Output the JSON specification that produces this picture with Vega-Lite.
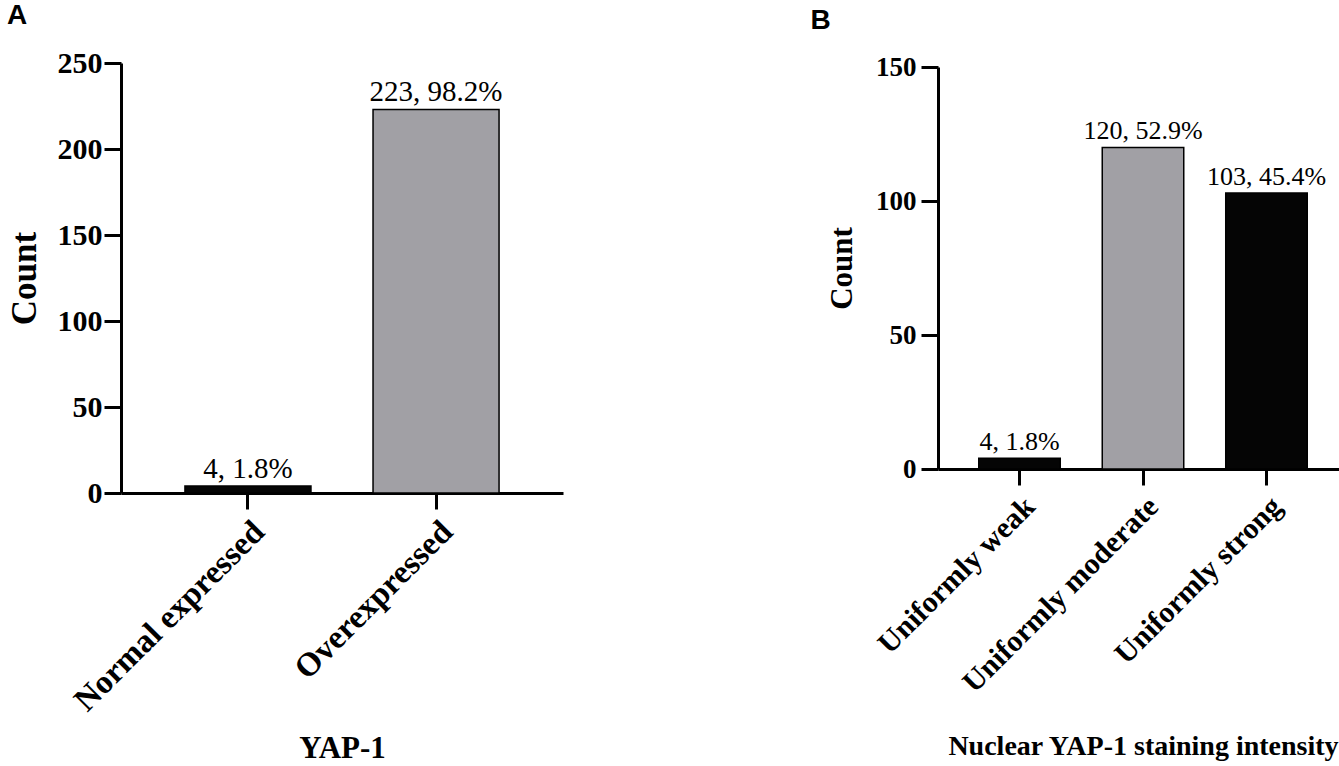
{
  "$schema": "https://vega.github.io/schema/vega-lite/v6.json",
  "background": "white",
  "padding": {"left": 7, "top": 2, "right": 0, "bottom": 0},
  "spacing": 247,
  "config": {
    "view": {"stroke": null},
    "font": "Liberation Serif",
    "axis": {
      "domainColor": "black", "domainWidth": 3,
      "tickColor": "black", "tickWidth": 3,
      "labelColor": "black", "titleColor": "black",
      "labelFont": "Liberation Serif", "titleFont": "Liberation Serif",
      "labelFontWeight": "bold", "titleFontWeight": "bold",
      "labelLimit": 0, "grid": false
    },
    "title": {"font": "Liberation Sans", "fontWeight": "bold", "color": "black", "anchor": "start", "frame": "bounds"}
  },
  "datasets": {
    "yap": [
      {"category": "Normal expressed", "count": 4, "label": "4, 1.8%"},
      {"category": "Overexpressed", "count": 223, "label": "223, 98.2%"}
    ],
    "nuclear": [
      {"category": "Uniformly weak", "count": 4, "label": "4, 1.8%"},
      {"category": "Uniformly moderate", "count": 120, "label": "120, 52.9%"},
      {"category": "Uniformly strong", "count": 103, "label": "103, 45.4%"}
    ]
  },
  "hconcat": [
    {
      "title": {"text": "A", "fontSize": 28, "offset": 18},
      "width": 442, "height": 430,
      "data": {"name": "yap"},
      "encoding": {
        "x": {
          "field": "category", "type": "nominal", "sort": null,
          "scale": {"paddingInner": 0.33, "paddingOuter": 0.34},
          "axis": {"title": "YAP-1", "labelAngle": -45, "labelFontSize": 33, "titleFontSize": 31, "tickSize": 16, "labelPadding": 6, "titlePadding": 40}
        },
        "y": {
          "field": "count", "type": "quantitative",
          "scale": {"domain": [0, 250], "nice": false},
          "axis": {"title": "Count", "values": [0, 50, 100, 150, 200, 250], "labelFontSize": 30, "titleFontSize": 35, "tickSize": 17, "labelPadding": 2, "titlePadding": 15}
        }
      },
      "layer": [
        {
          "mark": {"type": "bar", "stroke": "black", "strokeWidth": 1.5},
          "encoding": {
            "color": {"field": "category", "type": "nominal", "legend": null,
              "scale": {"domain": ["Normal expressed", "Overexpressed", "Uniformly weak", "Uniformly moderate", "Uniformly strong"],
                        "range": ["#050505", "#a1a0a5", "#050505", "#a1a0a5", "#050505"]}}
          }
        },
        {
          "mark": {"type": "text", "baseline": "alphabetic", "dy": -8, "fontSize": 29, "font": "Liberation Serif", "color": "black"},
          "encoding": {"text": {"field": "label"}}
        }
      ]
    },
    {
      "title": {"text": "B", "fontSize": 28, "offset": 18, "dx": -16},
      "width": 410, "height": 406,
      "data": {"name": "nuclear"},
      "encoding": {
        "x": {
          "field": "category", "type": "nominal", "sort": null,
          "scale": {"paddingInner": 0.34, "paddingOuter": 0.33},
          "axis": {"title": "Nuclear YAP-1 staining intensity", "labelAngle": -45, "labelFontSize": 30, "titleFontSize": 28, "tickSize": 16, "labelPadding": 6, "titlePadding": 63}
        },
        "y": {
          "field": "count", "type": "quantitative",
          "scale": {"domain": [0, 150], "nice": false, "range": [406, 4]},
          "axis": {"title": "Count", "values": [0, 50, 100, 150], "labelFontSize": 27, "titleFontSize": 31, "tickSize": 17, "labelPadding": 5, "titlePadding": 17}
        }
      },
      "layer": [
        {
          "mark": {"type": "bar", "stroke": "black", "strokeWidth": 1.5},
          "encoding": {
            "color": {"field": "category", "type": "nominal", "legend": null}
          }
        },
        {
          "mark": {"type": "text", "baseline": "alphabetic", "dy": -8, "fontSize": 26, "font": "Liberation Serif", "color": "black"},
          "encoding": {"text": {"field": "label"}}
        }
      ]
    }
  ]
}
